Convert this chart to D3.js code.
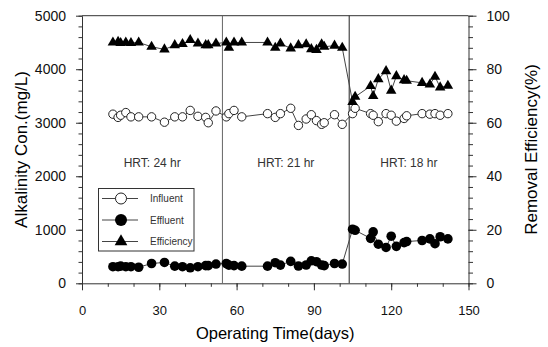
<!DOCTYPE html>
<html>
<head>
<meta charset="utf-8">
<script src="https://cdn.jsdelivr.net/npm/d3@7"></script>
<style>
  body { margin: 0; background: #fff; }
  svg { display: block; }
  text { font-family: Arial, "Liberation Sans", sans-serif; }
</style>
</head>
<body>
<div id="chart"></div>
<script>
const days = [12, 14, 15, 17, 19, 22, 27, 32, 36, 39, 42, 45, 48, 49, 52,
              56, 57, 59, 62, 72, 75, 77, 81, 84, 87, 89, 91, 93, 94, 98, 101,
              105, 106, 112, 113, 115, 118, 120, 122, 125, 126, 132, 135, 137, 139, 142];
const influent = [3160, 3100, 3140, 3190, 3110, 3110, 3110, 3010, 3110, 3110, 3230, 3120, 3100, 3000, 3220,
                  3110, 3170, 3230, 3110, 3170, 3100, 3170, 3270, 2950, 3070, 3150, 3040, 2970, 3000, 3150, 2970,
                  3170, 3270, 3170, 3140, 3020, 3170, 3140, 3030, 3080, 3130, 3170, 3160, 3170, 3140, 3170];
const effluent = [310, 310, 320, 310, 310, 300, 370, 390, 320, 310, 290, 310, 330, 330, 360,
                  370, 340, 330, 320, 320, 385, 340, 410, 323, 342, 420, 404, 342, 330, 370, 360,
                  1010, 990, 840, 960, 730, 670, 880, 690, 760, 780, 800, 830, 740, 870, 830];
const efficiency = [90, 90.2, 89.8, 90, 89.8, 90, 88.4, 87.4, 89, 89.4, 90.9, 89.6, 89, 89, 89.6,
                    90, 88, 90, 90, 90, 88, 89.6, 87.8, 89, 89.3, 87.5, 87.2, 89.3, 88.4, 88.8, 88,
                    67.8, 69.7, 73.7, 70, 76.3, 79.3, 72, 77.4, 75.9, 75.7, 74.9, 74.3, 77.2, 73.2, 73.8];

const xTicks = [0, 30, 60, 90, 120, 150];
const leftTicks = [0, 1000, 2000, 3000, 4000, 5000];
const rightTicks = [0, 20, 40, 60, 80, 100];
const phaseBounds = [0, 54.5, 103.7, 150];
const phaseLabels = ["HRT: 24 hr", "HRT: 21 hr", "HRT: 18 hr"];
const seriesNames = ["Influent", "Effluent", "Efficiency"];

const W = 548, H = 347;
const pLeft = 82, pRight = 468.5, pTop = 15.7, pBottom = 283.3;
const FONT = "Arial, 'Liberation Sans', sans-serif";

const svg = d3.select("#chart").append("svg")
    .attr("width", W).attr("height", H);

const x = d3.scaleLinear().domain([0, 150]).range([pLeft, pRight]);
const yL = d3.scaleLinear().domain([0, 5000]).range([pBottom, pTop]);
const yR = d3.scaleLinear().domain([0, 100]).range([pBottom, pTop]);
const fmt = d3.format("d");

// minor ticks first (no labels), then the major ones
svg.append("g").attr("transform", "translate(0," + pBottom + ")")
    .call(d3.axisBottom(x).tickValues(d3.range(0, 151, 10)).tickSize(3.5).tickFormat(""))
    .call(g => g.select(".domain").remove());
svg.append("g").attr("transform", "translate(0," + pBottom + ")")
    .call(d3.axisBottom(x).tickValues(xTicks).tickFormat(fmt).tickSize(7).tickSizeOuter(0).tickPadding(15))
    .call(g => g.selectAll("text").attr("font-size", 13).attr("font-family", FONT).attr("fill", "#111"));

svg.append("g").attr("transform", "translate(" + pLeft + ",0)")
    .call(d3.axisLeft(yL).tickValues(d3.range(0, 5001, 200)).tickSize(3.5).tickFormat(""))
    .call(g => g.select(".domain").remove());
svg.append("g").attr("transform", "translate(" + pLeft + ",0)")
    .call(d3.axisLeft(yL).tickValues(leftTicks).tickFormat(fmt).tickSize(6).tickSizeOuter(0).tickPadding(10))
    .call(g => g.selectAll("text").attr("font-size", 14).attr("font-family", FONT).attr("fill", "#111"));

svg.append("g").attr("transform", "translate(" + pRight + ",0)")
    .call(d3.axisRight(yR).tickValues(d3.range(0, 101, 4)).tickSize(4.5).tickFormat(""))
    .call(g => g.select(".domain").remove());
svg.append("g").attr("transform", "translate(" + pRight + ",0)")
    .call(d3.axisRight(yR).tickValues(rightTicks).tickFormat(fmt).tickSize(8).tickSizeOuter(0).tickPadding(10))
    .call(g => g.selectAll("text").attr("font-size", 14).attr("font-family", FONT).attr("fill", "#111"));

svg.selectAll(".domain, .tick line").attr("stroke", "#333");

// top frame line
svg.append("line")
    .attr("x1", pLeft).attr("x2", pRight).attr("y1", pTop).attr("y2", pTop)
    .attr("stroke", "#333");

// phase separators
svg.selectAll(".sep")
    .data(phaseBounds.slice(1, 3))
    .enter().append("line")
    .attr("x1", d => x(d)).attr("x2", d => x(d))
    .attr("y1", pTop).attr("y2", pBottom)
    .attr("stroke", (d, i) => i === 0 ? "#666" : "#222");

svg.selectAll(".hrt")
    .data(phaseLabels)
    .enter().append("text")
    .attr("x", (d, i) => x((phaseBounds[i] + phaseBounds[i + 1]) / 2))
    .attr("y", yL(2250))
    .attr("text-anchor", "middle")
    .attr("dominant-baseline", "central")
    .attr("font-family", FONT)
    .attr("font-size", 12)
    .attr("fill", "#333")
    .text(d => d);

// series
const rows = days.map((d, i) => ({ day: d, inf: influent[i], eff: effluent[i], pct: efficiency[i] }));

function drawLine(acc, yScale) {
    svg.append("path")
        .datum(rows)
        .attr("fill", "none")
        .attr("stroke", "#444")
        .attr("stroke-width", 1)
        .attr("d", d3.line().x(d => x(d.day)).y(d => yScale(acc(d))));
}
drawLine(d => d.inf, yL);
drawLine(d => d.eff, yL);
drawLine(d => d.pct, yR);

svg.selectAll(".inf")
    .data(rows).enter().append("circle")
    .attr("cx", d => x(d.day)).attr("cy", d => yL(d.inf))
    .attr("r", 4.2).attr("fill", "#fff").attr("stroke", "#222").attr("stroke-width", 1);

svg.selectAll(".eff")
    .data(rows).enter().append("circle")
    .attr("cx", d => x(d.day)).attr("cy", d => yL(d.eff))
    .attr("r", 4.8).attr("fill", "#000");

const tri = d3.symbol().type(d3.symbolTriangle).size(48);
svg.selectAll(".pct")
    .data(rows).enter().append("path")
    .attr("transform", d => "translate(" + x(d.day) + "," + yR(d.pct) + ")")
    .attr("d", tri).attr("fill", "#000");

// legend
const lg = svg.append("g");
lg.append("rect")
    .attr("x", 98.5).attr("y", 188.5).attr("width", 95.5).attr("height", 62.5)
    .attr("fill", "#fff").attr("stroke", "#333");
seriesNames.forEach((name, i) => {
    const cy = 198.5 + i * 21.5;
    lg.append("line").attr("x1", 102).attr("x2", 138).attr("y1", cy).attr("y2", cy).attr("stroke", "#444");
    if (i === 0) {
        lg.append("circle").attr("cx", 121).attr("cy", cy).attr("r", 5.5)
            .attr("fill", "#fff").attr("stroke", "#222");
    } else if (i === 1) {
        lg.append("circle").attr("cx", 121).attr("cy", cy).attr("r", 6).attr("fill", "#000");
    } else {
        lg.append("path").attr("transform", "translate(121," + cy + ")")
            .attr("d", d3.symbol().type(d3.symbolTriangle).size(70)).attr("fill", "#000");
    }
    lg.append("text").attr("x", 150).attr("y", cy)
        .attr("dominant-baseline", "central")
        .attr("font-family", FONT)
        .attr("font-size", 10).attr("fill", "#333")
        .text(name);
});

// axis titles
svg.append("text")
    .attr("x", (pLeft + pRight) / 2).attr("y", 339)
    .attr("text-anchor", "middle").attr("font-size", 16.5)
    .text("Operating Time(days)");
svg.append("text")
    .attr("transform", "translate(21," + ((pTop + pBottom) / 2) + ") rotate(-90)")
    .attr("text-anchor", "middle").attr("dominant-baseline", "central")
    .attr("font-size", 17)
    .text("Alkalinity Con.(mg/L)");
svg.append("text")
    .attr("transform", "translate(531," + ((pTop + pBottom) / 2) + ") rotate(-90)")
    .attr("text-anchor", "middle").attr("dominant-baseline", "central")
    .attr("font-size", 17)
    .text("Removal Efficiency(%)");
</script>
</body>
</html>
